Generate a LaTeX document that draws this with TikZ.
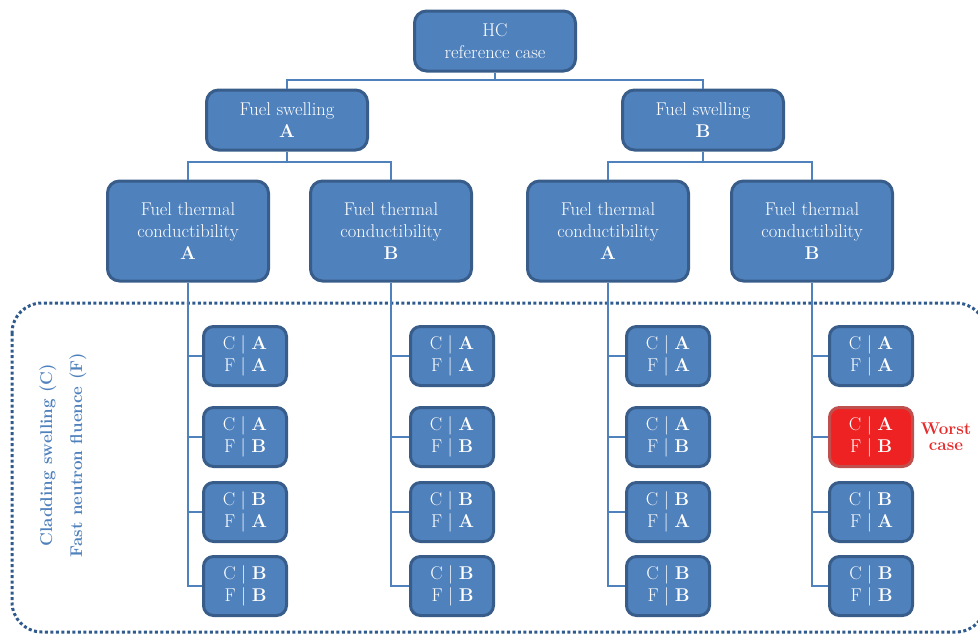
\documentclass[tikz,border=0pt]{standalone}
\usepackage{fontspec}
\usetikzlibrary{calc}
\definecolor{boxfill}{HTML}{4F81BD}
\definecolor{boxborder}{HTML}{385D8A}
\definecolor{framecol}{HTML}{2F5A8E}
\definecolor{redfill}{HTML}{EE2222}
\definecolor{redborder}{HTML}{C0504D}
\definecolor{redtext}{HTML}{E52B2B}
\newcommand{\cf}[2]{\begin{tabular}{@{}r@{\hspace{0.3em}\textbar\hspace{0.3em}}l@{}}C&\textbf{#1}\\F&\textbf{#2}\end{tabular}}
\begin{document}
\begin{tikzpicture}[x=1pt,y=-1pt,
  big/.style={draw=boxborder, fill=boxfill, line width=3pt, rounded corners=12pt,
    text=white, align=center, minimum width=161pt, inner sep=0pt,
    font=\fontsize{18.5}{22}\selectfont},
  small/.style={draw=boxborder, fill=boxfill, line width=3pt, rounded corners=10pt,
    text=white, align=center, minimum width=83pt, minimum height=59pt, inner sep=0pt,
    font=\fontsize{18.5}{22}\selectfont},
  redbox/.style={small, draw=redborder, fill=redfill},
  conn/.style={draw=boxfill, line width=2pt},
  frame/.style={draw=framecol, line width=3pt, dash pattern=on 3pt off 2.5pt, rounded corners=30pt},
  sidelabel/.style={rotate=90, text=boxfill, align=center, font=\bfseries\fontsize{17}{30}\selectfont},
  worst/.style={text=redtext, align=center, font=\bfseries\fontsize{17}{16}\selectfont}]
\useasboundingbox (0,0) rectangle (978,635);

\draw[frame] (12,303) rectangle (986,632);

\node[big, minimum height=60pt] (hc) at (495,41) {HC\\reference case};
\node[big, minimum height=60pt] (fsA) at (287,120) {Fuel swelling\\\textbf{A}};
\node[big, minimum height=60pt] (fsB) at (703,120) {Fuel swelling\\\textbf{B}};

\node[big, minimum height=100pt] (t1) at (188,231) {Fuel thermal\\conductibility\\\textbf{A}};
\node[big, minimum height=100pt] (t2) at (391,231) {Fuel thermal\\conductibility\\\textbf{B}};
\node[big, minimum height=100pt] (t3) at (608,231) {Fuel thermal\\conductibility\\\textbf{A}};
\node[big, minimum height=100pt] (t4) at (812,231) {Fuel thermal\\conductibility\\\textbf{B}};

\coordinate (j0) at (495,80);
\coordinate (j1) at (287,162);
\coordinate (j2) at (703,162);
\draw[conn] (hc.south) -- (j0);
\draw[conn] (fsA.north) |- (j0) -| (fsB.north);
\draw[conn] (fsA.south) -- (j1);
\draw[conn] (t1.north) |- (j1) -| (t2.north);
\draw[conn] (fsB.south) -- (j2);
\draw[conn] (t3.north) |- (j2) -| (t4.north);

\foreach \c/\x in {1/245,2/452,3/668,4/871}{
  \node[small] (s\c1) at (\x,356) {\cf{A}{A}};
  \node[small] (s\c3) at (\x,512) {\cf{B}{A}};
  \node[small] (s\c4) at (\x,586) {\cf{B}{B}};
}
\foreach \c/\x in {1/245,2/452,3/668}{
  \node[small] (s\c2) at (\x,437) {\cf{A}{B}};
}
\node[redbox] (s42) at (871,437) {\cf{A}{B}};

\foreach \c in {1,2,3,4}{
  \draw[conn] (t\c.south) |- (s\c4.west);
  \draw[conn] (t\c.south |- s\c1.west) -- (s\c1.west);
  \draw[conn] (t\c.south |- s\c2.west) -- (s\c2.west);
  \draw[conn] (t\c.south |- s\c3.west) -- (s\c3.west);
}

\node[worst] (wc) at (946,437) {Worst\\case};
\node[sidelabel] (lab) at (63,455) {Cladding swelling (C)\\Fast neutron fluence (F)};
\end{tikzpicture}
\end{document}
